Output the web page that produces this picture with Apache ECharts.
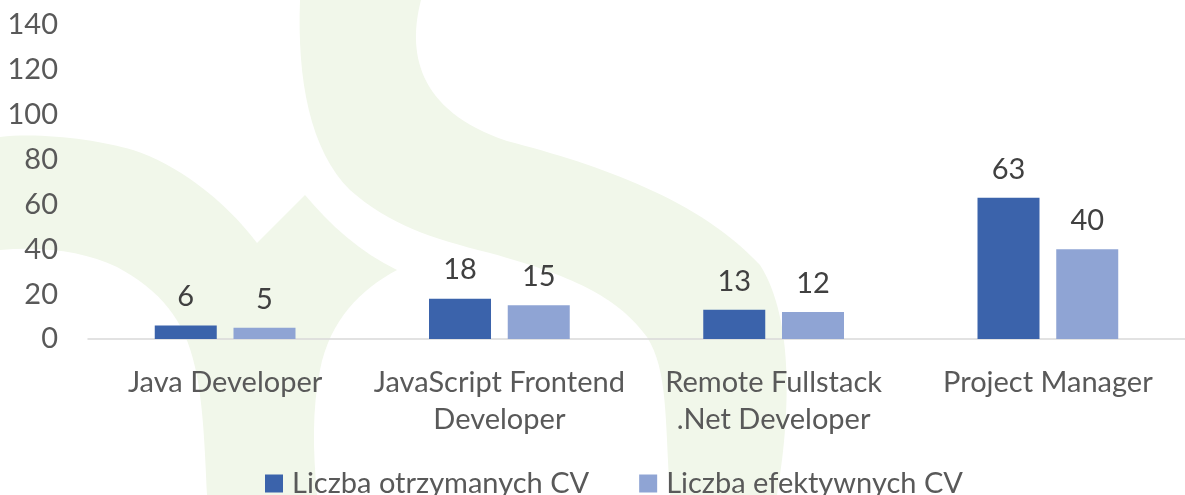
<!DOCTYPE html>
<html>
<head>
<meta charset="utf-8">
<script src="https://cdn.jsdelivr.net/npm/echarts@6/dist/echarts.min.js"></script>
<style>
  html, body { margin: 0; padding: 0; background: #fff; }
  #chart { width: 1185px; height: 495px; }
</style>
</head>
<body>
<div id="chart"></div>
<script>
const categories = ['Java Developer', 'JavaScript Frontend\nDeveloper', 'Remote Fullstack\n.Net Developer', 'Project Manager']
const receivedCv = [6, 18, 13, 63]
const effectiveCv = [5, 15, 12, 40]
const seriesNames = ['Liczba otrzymanych CV', 'Liczba efektywnych CV']

const font = 'Lato, Carlito, Calibri, sans-serif'
const fontSize = 29
const watermark = '#F1F7EA'

// faint logo shapes behind the plot
echarts.graphic.registerShape('wmBand', echarts.graphic.extendPath(
  'M300,0 L421,0 C408,50 415,110 507,141 C600,165 700,200 760,265 C795,320 790,420 777,495 L670,495 C665,420 668,370 647,337 C620,300 580,278 490,253 C430,238 390,225 350,190 C310,150 297,80 300,0 Z'
))
echarts.graphic.registerShape('wmArch', echarts.graphic.extendPath(
  'M0,137 C40,132 100,140 133,150 C175,163 225,200 257,243 L305,195 C330,225 360,252 397,270 C360,290 330,320 320,370 C312,410 313,450 317,495 L207,495 C205,450 203,400 195,367 C185,320 160,290 117,267 C85,252 45,246 0,250 Z'
))

const chart = echarts.init(document.getElementById('chart'))

const option = {
  backgroundColor: '#fff',
  textStyle: { fontFamily: font },
  graphic: [
    { type: 'wmBand', z: -10, silent: true, style: { fill: watermark } },
    { type: 'wmArch', z: -10, silent: true, style: { fill: watermark } }
  ],
  grid: {
    left: 88,
    right: 0,
    top: 25,
    bottom: 156
  },
  legend: {
    data: seriesNames,
    left: 265,
    top: 469,
    padding: 0,
    icon: 'rect',
    itemWidth: 18,
    itemHeight: 18,
    itemGap: 50,
    textStyle: {
      color: '#595959',
      fontSize: fontSize,
      fontFamily: font,
      padding: [0, 0, 0, 4]
    }
  },
  xAxis: {
    type: 'category',
    data: categories,
    axisLine: { lineStyle: { color: '#D9D9D9', width: 1.5 } },
    axisTick: { show: false },
    axisLabel: {
      color: '#595959',
      fontSize: fontSize,
      fontFamily: font,
      margin: 25,
      lineHeight: 37,
      interval: 0
    }
  },
  yAxis: {
    type: 'value',
    min: 0,
    max: 140,
    interval: 20,
    axisLine: { show: false },
    axisTick: { show: false },
    splitLine: { show: false },
    axisLabel: {
      color: '#595959',
      fontSize: fontSize,
      fontFamily: font,
      margin: 30
    }
  },
  series: [
    {
      name: seriesNames[0],
      type: 'bar',
      data: receivedCv,
      barWidth: 62,
      barGap: '27%',
      itemStyle: { color: '#3B63AB' },
      label: {
        show: true,
        position: 'top',
        distance: 14,
        color: '#404040',
        fontSize: fontSize,
        fontFamily: font
      }
    },
    {
      name: seriesNames[1],
      type: 'bar',
      data: effectiveCv,
      barWidth: 62,
      itemStyle: { color: '#8FA4D4' },
      label: {
        show: true,
        position: 'top',
        distance: 14,
        color: '#404040',
        fontSize: fontSize,
        fontFamily: font
      }
    }
  ]
}

chart.setOption(option)
</script>
</body>
</html>
